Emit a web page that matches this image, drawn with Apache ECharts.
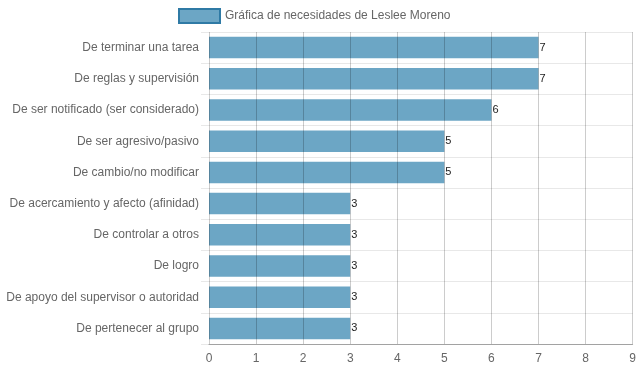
<!DOCTYPE html>
<html><head><meta charset="utf-8">
<script src="https://cdn.jsdelivr.net/npm/echarts@6/dist/echarts.min.js"></script>
<style>html,body{margin:0;padding:0;background:#fff}#c{width:639px;height:372px}</style>
</head><body><div id="c"></div>
<script>
const categories = ["De terminar una tarea","De reglas y supervisión","De ser notificado (ser considerado)","De ser agresivo/pasivo","De cambio/no modificar","De acercamiento y afecto (afinidad)","De controlar a otros","De logro","De apoyo del supervisor o autoridad","De pertenecer al grupo"];
const values = [7,7,6,5,5,3,3,3,3,3];
const seriesName = "Gráfica de necesidades de Leslee Moreno";
const font = "'Liberation Sans', Arial, sans-serif";
const chart = echarts.init(document.getElementById('c'));
chart.setOption({
  animation:false,
  textStyle:{fontFamily:font},
  legend:{left:178,top:8,padding:0,itemWidth:41,itemHeight:14,itemGap:5,icon:'rect',
    textStyle:{color:'#666',fontSize:12,fontFamily:font},
    itemStyle:{borderColor:'#2f7aa5',borderWidth:2}},
  grid:{left:209,right:6,top:32,bottom:28,containLabel:false},
  xAxis:{type:'value',min:0,max:9,interval:1,z:3,
    axisLine:{show:true,lineStyle:{color:'rgba(0,0,0,0.3)'}},
    axisTick:{show:false},
    splitLine:{show:true,lineStyle:{color:'rgba(0,0,0,0.2)'}},
    axisLabel:{color:'#666',fontSize:12,margin:9,fontFamily:font}},
  yAxis:{type:'category',data:categories,inverse:true,
    axisLine:{show:false},
    axisTick:{show:true,length:8,lineStyle:{color:'#e8e8e8'}},
    splitLine:{show:true,lineStyle:{color:'#e8e8e8'}},
    axisLabel:{color:'#666',fontSize:12,margin:10,fontFamily:font}},
  series:[{type:'bar',name:seriesName,data:values,barCategoryGap:'31%',
    itemStyle:{color:'#6ca6c5'},
    label:{show:true,position:'right',distance:1,color:'#222',fontSize:11,fontFamily:font}}]
});
</script></body></html>
